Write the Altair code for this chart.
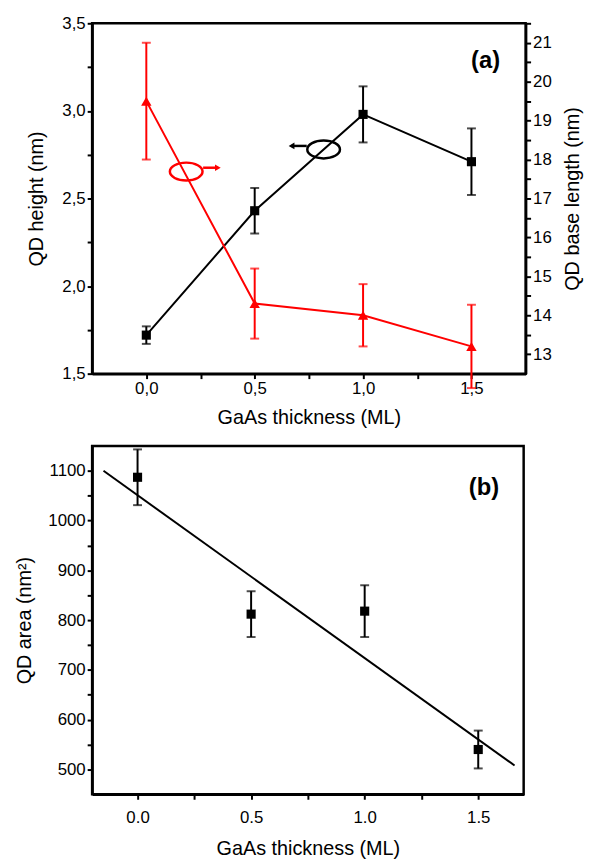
import altair as alt
import pandas as pd

# ---------------- data: panel (a) ----------------
thick = [0.0, 0.5, 1.0, 1.5]
height_nm = [1.72, 2.43, 2.98, 2.71]
height_err = [0.05, 0.13, 0.16, 0.19]
base_nm = [19.5, 14.3, 14.0, 13.2]
base_err = [1.5, 0.9, 0.8, 1.07]

# ---------------- data: panel (b) ----------------
area_nm2 = [1087, 812, 818, 540]
area_err = [56, 46, 52, 38]
fit_x = [-0.15, 1.66]
fit_y = [1100, 508]

# ---------------- tick values (major + minor) ----------------
x_ticks = [0.0, 0.25, 0.5, 0.75, 1.0, 1.25, 1.5]
h_ticks = [1.5, 1.75, 2.0, 2.25, 2.5, 2.75, 3.0, 3.25, 3.5]
L_ticks = [13, 13.5, 14, 14.5, 15, 15.5, 16, 16.5, 17, 17.5, 18, 18.5, 19, 19.5, 20, 20.5, 21, 21.5]
area_ticks = [500, 550, 600, 650, 700, 750, 800, 850, 900, 950, 1000, 1050, 1100]

# ---------------- annotation anchors (data units) ----------------
red_ell = {"x": [0.184], "y": [17.69]}
red_arrow = {"x": [0.262], "x2": [0.33], "y": [17.79]}
blk_ell = {"x": [0.818], "y": [2.78]}
blk_arrow = {"x": [0.74], "x2": [0.67], "y": [2.80]}
label_a = {"x": [1.565], "y": [3.285], "t": ["(a)"]}
label_b = {"x": [1.525], "y": [1066], "t": ["(b)"]}

FONT = "Liberation Sans"
RED = "#ff0000"
ELLIPSE = ("M -1 0 C -1 -0.3038 -0.5523 -0.55 0 -0.55 C 0.5523 -0.55 1 -0.3038 1 0 "
           "C 1 0.3038 0.5523 0.55 0 0.55 C -0.5523 0.55 -1 0.3038 -1 0 Z")

dfa = pd.DataFrame({"x": thick, "h": height_nm, "he": height_err, "L": base_nm, "Le": base_err})
dfa["h_lo"] = dfa["h"] - dfa["he"]
dfa["h_hi"] = dfa["h"] + dfa["he"]
dfa["L_lo"] = dfa["L"] - dfa["Le"]
dfa["L_hi"] = dfa["L"] + dfa["Le"]

dfb = pd.DataFrame({"x": thick, "a": area_nm2, "ae": area_err})
dfb["a_lo"] = dfb["a"] - dfb["ae"]
dfb["a_hi"] = dfb["a"] + dfb["ae"]
dfit = pd.DataFrame({"x": fit_x, "a": fit_y})

comma = "datum.value % 0.5 == 0 ? replace(format(datum.value, '.1f'), '.', ',') : ''"
ax_xa = alt.Axis(values=x_ticks, orient="bottom", titlePadding=11, labelExpr=comma)
ax_h = alt.Axis(values=h_ticks, orient="left", titlePadding=16, labelExpr=comma)
ax_L = alt.Axis(values=L_ticks, orient="right", titlePadding=12, titleAngle=270, titleBaseline="top",
                labelExpr="datum.value % 1 == 0 ? format(datum.value, 'd') : ''")
ax_xb = alt.Axis(values=x_ticks, orient="bottom", titlePadding=14, labelPadding=10,
                 labelExpr="datum.value % 0.5 == 0 ? format(datum.value, '.1f') : ''")
ax_b = alt.Axis(values=area_ticks, orient="left", titlePadding=13,
                labelExpr="datum.value % 100 == 0 ? format(datum.value, 'd') : ''")

sx_a = alt.Scale(domain=[-0.25, 1.75], nice=False, zero=False)
sh = alt.Scale(domain=[1.5, 3.5], nice=False, zero=False)
sL = alt.Scale(domain=[12.5, 21.5], nice=False, zero=False)
sx_b = alt.Scale(domain=[-0.2, 1.7], nice=False, zero=False)
sa = alt.Scale(domain=[450, 1150], nice=False, zero=False)

XT = "GaAs thickness (ML)"


def Xa(f="x"):
    return alt.X(f"{f}:Q", scale=sx_a, axis=ax_xa, title=XT)


def Yh(f):
    return alt.Y(f"{f}:Q", scale=sh, axis=ax_h, title="QD height (nm)")


def YL(f):
    return alt.Y(f"{f}:Q", scale=sL, axis=ax_L, title="QD base length (nm)")


def Xb(f="x"):
    return alt.X(f"{f}:Q", scale=sx_b, axis=ax_xb, title=XT)


def Yb(f):
    return alt.Y(f"{f}:Q", scale=sa, axis=ax_b, title="QD area (nm²)")


def err_layers(base, X, Y, lo, hi, color):
    bar = base.mark_rule(color=color, strokeWidth=2).encode(x=X(), y=Y(lo), y2=f"{hi}:Q")
    c1 = base.mark_tick(color=color, orient="horizontal", size=9, thickness=2).encode(x=X(), y=Y(lo))
    c2 = base.mark_tick(color=color, orient="horizontal", size=9, thickness=2).encode(x=X(), y=Y(hi))
    return [bar, c1, c2]


base_a = alt.Chart(dfa)

# ---- left (black) layers
blk_line = base_a.mark_line(color="black", strokeWidth=2).encode(x=Xa(), y=Yh("h"))
blk_pts = base_a.mark_point(shape="square", filled=True, size=85, color="black", opacity=1).encode(x=Xa(), y=Yh("h"))
blk_e = alt.Chart(pd.DataFrame(blk_ell)).mark_point(shape=ELLIPSE, size=1089, filled=False, strokeWidth=2.5,
                                                     color="black", opacity=1).encode(x=Xa(), y=Yh("y"))
blk_ar = alt.Chart(pd.DataFrame(blk_arrow)).mark_rule(color="black", strokeWidth=2.5).encode(
    x=Xa(), x2="x2:Q", y=Yh("y"))
blk_head = alt.Chart(pd.DataFrame(blk_arrow)).mark_point(shape="triangle-left", filled=True, size=45,
                                                         color="black", opacity=1).encode(x=Xa("x2"), y=Yh("y"))
lab_a = alt.Chart(pd.DataFrame(label_a)).mark_text(font=FONT, fontSize=24, fontWeight="bold",
                                                   color="black").encode(x=Xa(), y=Yh("y"), text="t:N")

left = alt.layer(blk_line, *err_layers(base_a, Xa, Yh, "h_lo", "h_hi", "black"), blk_pts,
                 blk_e, blk_ar, blk_head, lab_a)

# ---- right (red) layers
red_line = base_a.mark_line(color=RED, strokeWidth=2).encode(x=Xa(), y=YL("L"))
red_pts = base_a.mark_point(shape="triangle-up", filled=True, size=110, color=RED, opacity=1).encode(x=Xa(), y=YL("L"))
red_e = alt.Chart(pd.DataFrame(red_ell)).mark_point(shape=ELLIPSE, size=1089, filled=False, strokeWidth=2.5,
                                                     color=RED, opacity=1).encode(x=Xa(), y=YL("y"))
red_ar = alt.Chart(pd.DataFrame(red_arrow)).mark_rule(color=RED, strokeWidth=2.5).encode(
    x=Xa(), x2="x2:Q", y=YL("y"))
red_head = alt.Chart(pd.DataFrame(red_arrow)).mark_point(shape="triangle-right", filled=True, size=45,
                                                         color=RED, opacity=1).encode(x=Xa("x2"), y=YL("y"))

right = alt.layer(red_line, *err_layers(base_a, Xa, YL, "L_lo", "L_hi", RED), red_pts,
                  red_e, red_ar, red_head)

top = alt.layer(left, right).resolve_scale(y="independent").properties(width=438, height=354)

# ---- panel (b)
base_b = alt.Chart(dfb)
fit = alt.Chart(dfit).mark_line(color="black", strokeWidth=2).encode(x=Xb(), y=Yb("a"))
b_pts = base_b.mark_point(shape="square", filled=True, size=85, color="black", opacity=1).encode(x=Xb(), y=Yb("a"))
lab_b = alt.Chart(pd.DataFrame(label_b)).mark_text(font=FONT, fontSize=24, fontWeight="bold",
                                                   color="black").encode(x=Xb(), y=Yb("y"), text="t:N")

bottom = alt.layer(fit, *err_layers(base_b, Xb, Yb, "a_lo", "a_hi", "black"), b_pts, lab_b).properties(
    width=436, height=352)

chart = (
    alt.vconcat(top, bottom, spacing=15)
    .properties(padding={"left": 5, "top": 0, "right": 2, "bottom": 2}, background="white")
    .configure_view(stroke="black", strokeWidth=2.5)
    .configure_axis(domainColor="black", domainWidth=2.5, tickColor="black", tickWidth=2, tickSize=5,
                    labelFont=FONT, labelFontSize=17, labelColor="black", labelPadding=2,
                    titleFont=FONT, titleFontSize=20, titleFontWeight="normal", titleColor="black",
                    grid=False)
)

chart.save("out.html", embed_options={"renderer": "svg", "actions": False})
